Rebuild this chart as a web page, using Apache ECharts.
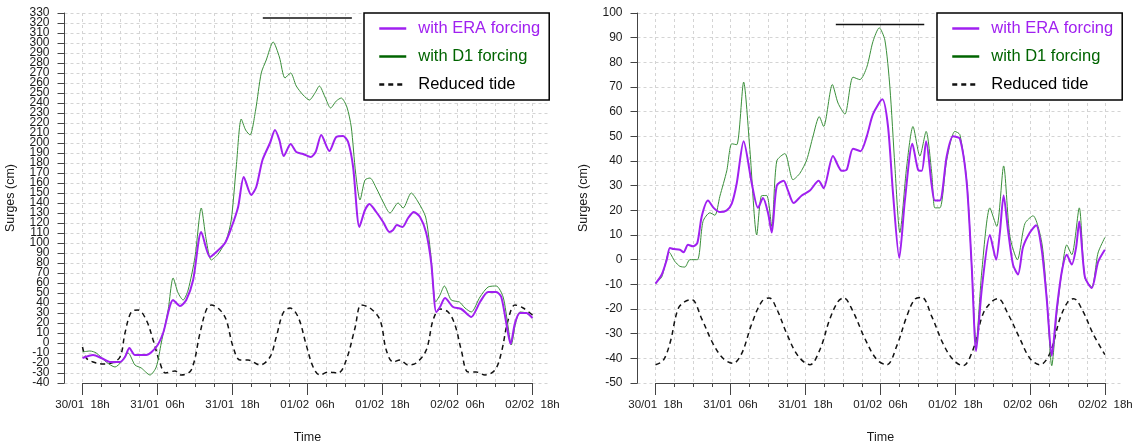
<!DOCTYPE html>
<html>
<head>
<meta charset="utf-8">
<script src="https://cdn.jsdelivr.net/npm/echarts@6/dist/echarts.min.js"></script>
<style>
  html, body { margin: 0; padding: 0; background: #ffffff; }
  #chart { width: 1137px; height: 448px; }
</style>
</head>
<body>
<div id="chart"></div>
<script>
// Time is counted in hours from 30/01 18h.
const xTickLabels = ['30/01  18h', '31/01  06h', '31/01  18h', '01/02  06h', '01/02  18h', '02/02  06h', '02/02  18h'];
const seriesNames = ['with ERA forcing', 'with D1 forcing', 'Reduced tide'];

// Left panel: surges (cm)
const leftEra = [
  [0, -15], [1.7, -12], [3.0, -15], [4.4, -19], [6.0, -19], [6.8, -14], [7.5, -5], [8.4, -12],
  [10.2, -12], [11.8, -4], [12.9, 10], [14.5, 43], [15.6, 37], [16.6, 43], [17.7, 63], [19.0, 111],
  [20.4, 86], [21.4, 91], [22.8, 100], [23.8, 115], [24.9, 136], [25.8, 166], [27.0, 148], [27.8, 156],
  [28.8, 183], [30.0, 200], [30.8, 213], [31.5, 203], [32.2, 187], [33.3, 199], [34.2, 191], [35.3, 189],
  [36.5, 186], [37.3, 191], [38.2, 208], [39.5, 192], [40.6, 206], [41.7, 207], [42.5, 201], [43.3, 176],
  [44.3, 116], [45.2, 133], [45.9, 139], [47.0, 131], [48.1, 121], [49.1, 111], [49.7, 113], [50.3, 118],
  [51.2, 116], [52.1, 125], [53.0, 131], [54.0, 126], [55.0, 110], [55.8, 80], [56.6, 31], [57.2, 36],
  [58.0, 45], [59.3, 36], [60.6, 34], [62.2, 26], [63.6, 41], [64.9, 51], [66.2, 51], [67.0, 46],
  [67.8, 20], [68.5, -1], [69.2, 20], [70.0, 30], [71.0, 30], [72.0, 25]
];
const leftD1 = [
  [0, -9], [1.2, -8], [2.2, -10], [3.8, -19], [5.2, -24], [6.2, -19], [7.3, -10], [8.4, -22],
  [9.4, -25], [10.8, -32], [11.8, -24], [12.6, 0], [13.7, 33], [14.5, 65], [15.3, 50], [16.1, 43],
  [16.9, 53], [18.0, 86], [19.0, 135], [19.8, 103], [20.6, 83], [21.7, 89], [23.0, 103], [23.8, 123],
  [24.6, 176], [25.4, 224], [26.1, 213], [26.8, 208], [27.7, 233], [28.6, 270], [29.4, 283], [30.5, 301],
  [31.5, 286], [32.4, 265], [33.3, 270], [34.2, 257], [35.3, 248], [36.3, 243], [37.2, 250], [37.9, 257],
  [38.8, 246], [39.7, 235], [40.6, 242], [41.4, 245], [42.3, 236], [43.0, 216], [43.7, 170], [44.4, 143],
  [45.2, 163], [46.0, 165], [47.0, 155], [48.1, 141], [49.2, 130], [50.5, 140], [51.3, 135], [52.6, 150],
  [53.7, 141], [54.9, 126], [55.7, 90], [56.5, 41], [57.2, 48], [57.9, 57], [59.0, 43], [60.3, 41],
  [61.2, 35], [62.2, 31], [63.6, 46], [64.9, 56], [66.2, 57], [67.3, 46], [68.1, 16], [68.6, -2],
  [69.3, 20], [70.0, 31], [71.0, 30], [72.0, 25]
];
const leftTide = [
  [0, -4], [0.6, -15], [1.7, -19], [3.3, -21], [4.6, -20], [6.0, -14], [6.8, 10], [7.8, 31],
  [8.9, 33], [10.2, 23], [11.3, 3], [12.4, -20], [13.3, -30], [14.8, -28], [15.8, -32], [17.4, -27],
  [18.8, 10], [19.8, 33], [20.6, 38], [22.0, 33], [23.0, 23], [24.1, -4], [25.2, -17], [26.5, -17],
  [28.4, -22], [30.0, -14], [31.0, 6], [32.1, 30], [33.2, 35], [34.5, 26], [35.8, -2], [36.9, -24],
  [38.0, -32], [39.3, -29], [40.9, -30], [42.2, -17], [43.6, 15], [44.6, 38], [46.0, 35], [47.6, 23],
  [48.6, -7], [49.7, -19], [50.8, -17], [52.1, -22], [53.4, -20], [55.0, -7], [56.1, 23], [57.2, 34],
  [58.5, 31], [59.6, 18], [60.6, -7], [61.7, -29], [63.0, -29], [64.4, -32], [66.0, -27], [67.0, -10],
  [68.1, 23], [69.2, 38], [70.5, 35], [72.0, 28]
];
const leftBar = [[28.85, 325], [43.1, 325]];

// Right panel: surges (cm)
const rightEra = [
  [0, -9.7], [1.0, -6], [1.8, 0], [2.3, 4.7], [2.9, 4.3], [3.9, 4], [4.5, 3], [5.2, 6],
  [6.0, 5.4], [6.7, 6.8], [7.4, 17.6], [8.4, 24], [9.3, 21], [10.3, 19.3], [11.4, 20], [12.2, 22.7],
  [13.0, 31], [14.1, 48], [15.4, 31], [16.4, 21], [17.2, 25], [18.0, 19], [18.6, 11], [19.4, 30],
  [20.5, 32], [21.2, 28], [22.1, 23], [23.4, 26], [24.7, 28], [26.1, 32], [26.9, 29], [28.4, 42],
  [29.8, 36], [30.6, 36.5], [31.6, 45], [32.8, 44], [33.8, 50], [34.8, 59], [36.3, 65], [37.2, 54],
  [38.0, 27], [39.0, 0.7], [39.9, 24], [41.1, 47], [42.0, 36.5], [42.6, 36], [43.3, 48], [44.2, 30],
  [44.7, 24], [45.5, 24], [46.6, 42], [47.6, 50], [48.7, 49], [49.8, 31], [50.6, -3], [51.3, -37],
  [52.2, -12], [53.5, 10], [54.5, 0], [55.1, 11], [55.7, 26], [56.4, 12], [57.2, -2], [58.0, -6],
  [58.8, 5], [59.9, 11], [60.9, 14], [61.8, 4], [62.6, -16], [63.4, -39], [64.2, -20], [65.0, -5],
  [65.8, 2], [66.6, -2], [67.3, 5], [67.8, 15.5], [68.7, -7], [69.8, -11.5], [70.8, -1], [71.9, 4]
];
const rightD1 = [
  [0, -9.5], [1.0, -7], [2.2, 3], [3.1, -0.7], [3.9, -2.7], [4.7, -3], [5.5, 0], [6.7, 0],
  [7.6, 15.5], [8.7, 19], [9.5, 18], [10.3, 25.7], [11.4, 36], [12.2, 47], [13.0, 46.6], [14.1, 72],
  [15.1, 44.6], [16.2, 10], [17.0, 26], [17.8, 26], [18.6, 13.5], [19.4, 40], [20.7, 43], [22.0, 32.4],
  [23.1, 35], [24.2, 40.5], [25.2, 50], [26.2, 58], [26.9, 54], [28.3, 71], [29.2, 63.5], [30.3, 59],
  [31.6, 74], [32.7, 73], [33.8, 78], [34.8, 88.5], [35.8, 94], [36.7, 89], [37.5, 70], [38.3, 38],
  [39.1, 11], [40.2, 38], [41.2, 54], [42.3, 42], [43.3, 52], [44.2, 35], [44.7, 21], [45.5, 21],
  [46.6, 40.5], [47.9, 52], [48.7, 50.7], [49.8, 32], [50.6, -3], [51.3, -34], [52.2, -5], [53.5, 21],
  [54.6, 13.5], [55.7, 38], [56.7, 9.5], [57.9, 0], [59.1, 14.6], [60.4, 17.8], [61.8, 7], [62.6, -15],
  [63.4, -43], [64.2, -22], [65.0, -5], [65.8, 6], [66.6, 2], [67.8, 21], [68.7, -7.4], [69.8, -11],
  [70.8, 2.7], [71.9, 9]
];
const rightTide = [
  [0, -42.6], [1.2, -41], [2.3, -34], [3.6, -20], [4.7, -17], [5.8, -16.2], [7.4, -24], [9.2, -34],
  [10.8, -40], [12.4, -42], [13.8, -38], [15.4, -26], [17.0, -17], [18.2, -15.5], [19.4, -20], [21.0, -30],
  [22.8, -39], [24.7, -42.6], [26.3, -36.5], [27.9, -24], [29.2, -17], [30.1, -15.5], [31.6, -21], [33.5, -32],
  [35.4, -40.5], [37.0, -42.6], [38.6, -35], [40.2, -23], [41.5, -16], [42.6, -15.3], [44.2, -23], [46.0, -34],
  [47.6, -40.5], [49.2, -43], [50.8, -36.5], [52.4, -22], [53.8, -17], [54.8, -15.8], [56.4, -22], [58.3, -32],
  [59.9, -40], [61.5, -42.6], [63.1, -38], [64.7, -24], [66.0, -17], [66.9, -15.8], [68.4, -21], [70.0, -30],
  [71.9, -38.5]
];
const rightBar = [[28.85, 95.3], [43.0, 95.3]];

const FONT = '"Liberation Sans", Arial, Helvetica, sans-serif';
const ERA_COLOR = '#A020F0';
const D1_COLOR = '#3a8f3a';
const D1_TEXT = '#006400';
const GRID_LINE = { color: '#d4d4d4', width: 1, type: [3, 3] };
const AXIS_COLOR = '#444444';
const LABEL_STYLE = { fontSize: 12, color: '#1a1a1a', fontFamily: FONT };

// Surge axis: line, ticks, grid and the inner tick labels (the two end labels are
// written by a companion axis so that the crowded labels are never dropped).
function surgeAxis(gridIndex, min, max, nameGap) {
  return {
    type: 'value', gridIndex, min, max, interval: 10, position: 'left',
    axisLine: { show: true, onZero: false, lineStyle: { color: AXIS_COLOR, width: 1 } },
    axisTick: { show: true, length: 7, lineStyle: { color: AXIS_COLOR } },
    axisLabel: {
      margin: 15, ...LABEL_STYLE, showMinLabel: true, showMaxLabel: true, hideOverlap: false,
      formatter: v => (v === min || v === max) ? '' : String(v)
    },
    splitLine: { show: true, lineStyle: GRID_LINE },
    name: 'Surges (cm)', nameLocation: 'middle', nameGap, nameRotate: 90,
    nameMoveOverlap: false,
    nameTextStyle: { fontSize: 12.5, color: '#1a1a1a', fontFamily: FONT }
  };
}
// Companion axis carrying only the end labels of the surge scale
function surgeEndLabels(gridIndex, min, max) {
  return {
    type: 'value', gridIndex, min, max, interval: 10, position: 'left', offset: 0,
    axisLine: { show: false, onZero: false }, axisTick: { show: false }, splitLine: { show: false },
    axisLabel: {
      margin: 15, ...LABEL_STYLE, showMinLabel: true, showMaxLabel: true, hideOverlap: false,
      formatter: v => (v === min || v === max) ? String(v) : ''
    }
  };
}
// Hidden x scale of the plotting area (padded either side of the data span)
function plotX(gridIndex) {
  return { type: 'value', gridIndex, min: -2.88, max: 74.88, show: false };
}
// Visible time axis: 0 .. 72 h, major ticks every 12 h, minor every 3 h
function timeAxis(gridIndex) {
  return {
    type: 'value', gridIndex, min: 0, max: 72, interval: 12,
    axisLine: { show: true, onZero: false, lineStyle: { color: AXIS_COLOR, width: 1 } },
    axisTick: { show: true, length: 12, lineStyle: { color: AXIS_COLOR } },
    minorTick: { show: true, splitNumber: 4, length: 4, lineStyle: { color: AXIS_COLOR } },
    splitLine: { show: true, lineStyle: GRID_LINE },
    minorSplitLine: { show: true, lineStyle: GRID_LINE },
    axisLabel: {
      margin: 16, fontSize: 11.5, color: '#1a1a1a', fontFamily: FONT,
      showMinLabel: true, showMaxLabel: true, hideOverlap: false,
      formatter: v => xTickLabels[Math.round(v / 12)]
    },
    name: 'Time', nameLocation: 'middle', nameGap: 48,
    nameMoveOverlap: false,
    nameTextStyle: { fontSize: 12.5, color: '#1a1a1a', fontFamily: FONT }
  };
}
function hiddenY(gridIndex) {
  return { type: 'value', gridIndex, min: 0, max: 1, show: false };
}

function panelSeries(axisIndex, era, d1, tide, bar) {
  return [
    {
      type: 'line', name: seriesNames[2], xAxisIndex: axisIndex, yAxisIndex: axisIndex, data: tide,
      symbol: 'none', smooth: 0.35, lineStyle: { color: '#111', width: 1.5, type: [5, 4] },
      itemStyle: { color: '#111' }, z: 3
    },
    {
      type: 'line', name: seriesNames[1], xAxisIndex: axisIndex, yAxisIndex: axisIndex, data: d1,
      symbol: 'none', smooth: 0.25, lineStyle: { color: D1_COLOR, width: 1 },
      itemStyle: { color: D1_COLOR }, z: 4
    },
    {
      type: 'line', name: seriesNames[0], xAxisIndex: axisIndex, yAxisIndex: axisIndex, data: era,
      symbol: 'none', smooth: 0.25, lineStyle: { color: ERA_COLOR, width: 2 },
      itemStyle: { color: ERA_COLOR }, z: 5
    },
    {
      type: 'line', name: 'window', xAxisIndex: axisIndex, yAxisIndex: axisIndex, data: bar,
      symbol: 'none', lineStyle: { color: '#111', width: 1.5 }, itemStyle: { color: '#111' }, z: 5
    }
  ];
}

function legendAt(left) {
  return {
    left, top: 13, orient: 'vertical',
    data: [
      { name: seriesNames[0], textStyle: { color: ERA_COLOR } },
      { name: seriesNames[1], textStyle: { color: D1_TEXT }, lineStyle: { color: '#006400' } },
      { name: seriesNames[2], textStyle: { color: '#000' } }
    ],
    itemWidth: 27, itemHeight: 14, itemGap: 11,
    padding: [7, 9, 7, 14],
    borderColor: '#000', borderWidth: 1.5, backgroundColor: '#fff',
    itemStyle: { opacity: 0, borderWidth: 0 },
    lineStyle: { width: 2.5 },
    textStyle: { fontSize: 16.5, lineHeight: 16, fontFamily: FONT, padding: [0, 0, 0, 7] },
    z: 10
  };
}

// Fixed plot rectangles: no automatic shrinking to fit labels
function gridRect(left, width) {
  return { left, top: 13, width, height: 370, containLabel: false, outerBoundsMode: 'none' };
}

const chart = echarts.init(document.getElementById('chart'), null, { renderer: 'canvas' });
chart.setOption({
  animation: false,
  backgroundColor: '#ffffff',
  grid: [gridRect(64.5, 486), gridRect(82.5, 450), gridRect(637.5, 486), gridRect(655.5, 450)],
  xAxis: [plotX(0), timeAxis(1), plotX(2), timeAxis(3)],
  // yAxis 0..3: plotting scales / hidden time-grid scales; 4, 5: end labels
  yAxis: [
    surgeAxis(0, -40, 330, 47), hiddenY(1), surgeAxis(2, -50, 100, 47), hiddenY(3),
    surgeEndLabels(0, -40, 330), surgeEndLabels(2, -50, 100)
  ],
  legend: [legendAt(364), legendAt(937)],
  series: [
    ...panelSeries(0, leftEra, leftD1, leftTide, leftBar),
    ...panelSeries(2, rightEra, rightD1, rightTide, rightBar)
  ]
});
</script>
</body>
</html>
